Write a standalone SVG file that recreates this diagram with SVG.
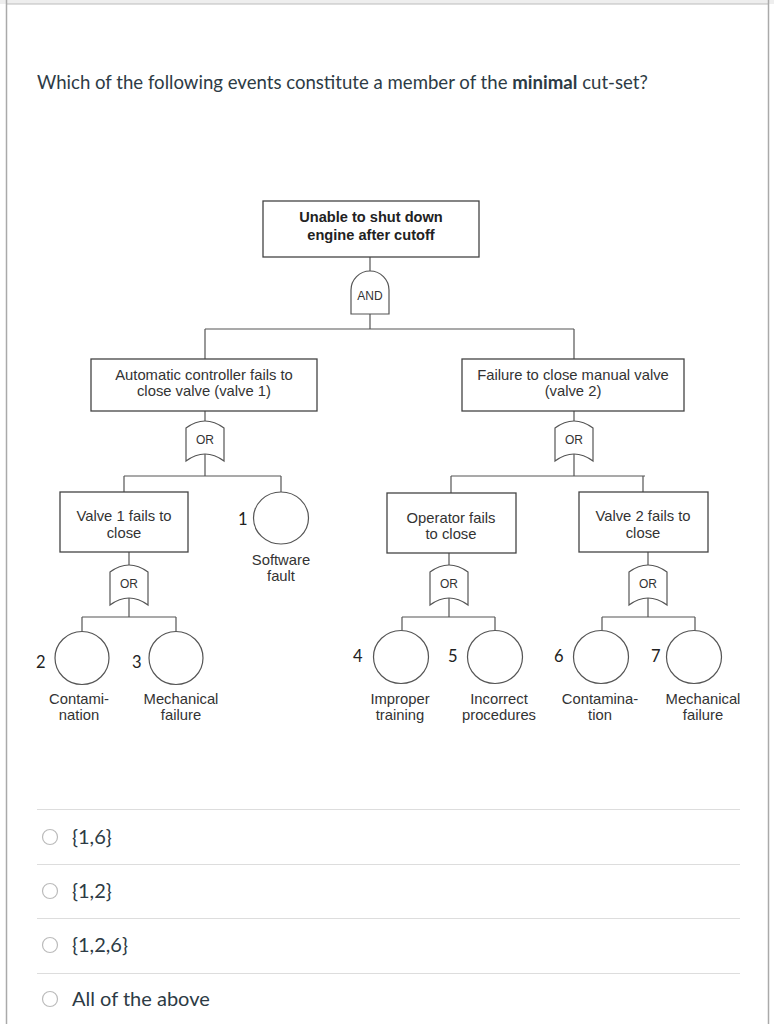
<svg xmlns="http://www.w3.org/2000/svg" xmlns:xlink="http://www.w3.org/1999/xlink" width="774" height="1024" viewBox="0 0 774 1024">
<style>
.q{font-family:Lato,"Liberation Sans",sans-serif;fill:#2d3b45}
.t{font-family:"Liberation Sans",Arial,sans-serif;font-size:14.8px;fill:#333;text-anchor:middle}
.tb{font-family:"Liberation Sans",Arial,sans-serif;font-size:14.6px;font-weight:bold;fill:#222;text-anchor:middle}
.g{font-family:"Liberation Sans",Arial,sans-serif;font-size:12px;fill:#333;text-anchor:middle}
.n{font-family:Lato,"Open Sans",sans-serif;font-size:16.5px;fill:#222}
.box{fill:#fff;stroke:#444;stroke-width:1.3}
.gate{fill:#fff;stroke:#555;stroke-width:1.2}
.ev{fill:#fff;stroke:#555;stroke-width:1.2}
.c{fill:none;stroke:#555;stroke-width:1.2}
.sep{stroke:#ddd;stroke-width:1.2}
.rad{fill:#fff;stroke:#bbb;stroke-width:1.2}
.a{font-family:Lato,"Liberation Sans",sans-serif;font-size:20px;fill:#2d3b45}
</style>
<defs>
<path id="orgate" d="M-19,7 Q0,-7 19,7 L19,40 Q0,26 -19,40 Z"/>
</defs>
<rect x="0" y="0" width="774" height="1024" fill="#fff"/>
<rect x="0" y="0" width="774" height="4" fill="#eeeeee"/>
<line x1="6" y1="4" x2="769" y2="4" stroke="#bbb" stroke-width="1.2"/>
<line x1="6.5" y1="0" x2="6.5" y2="1024" stroke="#aaa" stroke-width="1.5"/>
<line x1="768.5" y1="0" x2="768.5" y2="1024" stroke="#aaa" stroke-width="1.5"/>

<text class="q" x="37" y="89" font-size="18.6">Which of the following events constitute a member of the <tspan font-weight="bold">minimal</tspan> cut-set?</text>

<g id="connectors">
<path class="c" d="M370,257 V271 M370,314 V329 M205,329 H574 M205,329 V359 M574,329 V359"/>
<path class="c" d="M205,411 V421 M205,454 V476 M124,476 H281 M124,476 V492 M281,476 V492"/>
<path class="c" d="M574,411 V421 M574,454 V476 M451,476 H645 M451,476 V493 M643,476 V492"/>
<path class="c" d="M129,552 V565 M129,597 V617 M82,617 H176 M82,617 V632 M176,617 V632"/>
<path class="c" d="M449,553 V565 M449,597 V617 M402,617 H495 M402,617 V631 M495,617 V631"/>
<path class="c" d="M648,552 V565 M648,597 V617 M602,617 H695 M602,617 V631 M695,617 V631"/>
</g>

<g id="top">
<rect class="box" x="263" y="201" width="216" height="56"/>
<text class="tb" x="371" y="222">Unable to shut down</text>
<text class="tb" x="371" y="240">engine after cutoff</text>
</g>
<g id="and-gate">
<path class="gate" d="M351,314 V290 A19,19 0 0 1 389,290 V314 Z"/>
<text class="g" x="370" y="300">AND</text>
</g>

<g id="auto-controller">
<rect class="box" x="91" y="359" width="226" height="52"/>
<text class="t" x="204" y="380">Automatic controller fails to</text>
<text class="t" x="204" y="396">close valve (valve 1)</text>
</g>
<g id="or1">
<use xlink:href="#orgate" class="gate" x="205" y="421"/>
<text class="g" x="205" y="444">OR</text>
</g>

<g id="manual-valve">
<rect class="box" x="462" y="359" width="222" height="52"/>
<text class="t" x="573" y="380">Failure to close manual valve</text>
<text class="t" x="573" y="396">(valve 2)</text>
</g>
<g id="or2">
<use xlink:href="#orgate" class="gate" x="574" y="421"/>
<text class="g" x="574" y="444">OR</text>
</g>

<g id="valve1">
<rect class="box" x="60" y="492" width="128" height="60"/>
<text class="t" x="124" y="521">Valve 1 fails to</text>
<text class="t" x="124" y="538">close</text>
</g>
<g id="or3">
<use xlink:href="#orgate" class="gate" x="129" y="565"/>
<text class="g" x="129" y="588">OR</text>
</g>

<g id="software">
<ellipse class="ev" cx="281" cy="518" rx="27.5" ry="26"/>
<text class="n" x="238" y="525">1</text>
<text class="t" x="281" y="565">Software</text>
<text class="t" x="281" y="581">fault</text>
</g>

<g id="operator">
<rect class="box" x="387" y="493" width="129" height="60"/>
<text class="t" x="451" y="523">Operator fails</text>
<text class="t" x="451" y="539">to close</text>
</g>
<g id="or4">
<use xlink:href="#orgate" class="gate" x="449" y="565"/>
<text class="g" x="449" y="588">OR</text>
</g>

<g id="valve2">
<rect class="box" x="579" y="492" width="129" height="60"/>
<text class="t" x="643" y="521">Valve 2 fails to</text>
<text class="t" x="643" y="538">close</text>
</g>
<g id="or5">
<use xlink:href="#orgate" class="gate" x="648" y="565"/>
<text class="g" x="648" y="588">OR</text>
</g>

<g id="e2">
<ellipse class="ev" cx="82" cy="658" rx="27" ry="26.5"/>
<text class="n" x="36" y="668">2</text>
<text class="t" x="79" y="704">Contami-</text>
<text class="t" x="79" y="720">nation</text>
</g>
<g id="e3">
<ellipse class="ev" cx="176" cy="658" rx="27" ry="26.5"/>
<text class="n" x="132" y="668">3</text>
<text class="t" x="181" y="704">Mechanical</text>
<text class="t" x="181" y="720">failure</text>
</g>
<g id="e4">
<ellipse class="ev" cx="401" cy="657" rx="27.5" ry="26.5"/>
<text class="n" x="353" y="662">4</text>
<text class="t" x="400" y="704">Improper</text>
<text class="t" x="400" y="720">training</text>
</g>
<g id="e5">
<ellipse class="ev" cx="495" cy="657" rx="27.5" ry="26.5"/>
<text class="n" x="448" y="662">5</text>
<text class="t" x="499" y="704">Incorrect</text>
<text class="t" x="499" y="720">procedures</text>
</g>
<g id="e6">
<ellipse class="ev" cx="601" cy="657" rx="27.5" ry="26.5"/>
<text class="n" x="554" y="662">6</text>
<text class="t" x="600" y="704">Contamina-</text>
<text class="t" x="600" y="720">tion</text>
</g>
<g id="e7">
<ellipse class="ev" cx="694" cy="657" rx="27.5" ry="26.5"/>
<text class="n" x="651" y="662">7</text>
<text class="t" x="703" y="704">Mechanical</text>
<text class="t" x="703" y="720">failure</text>
</g>

<g id="answers">
<line class="sep" x1="37" y1="809.5" x2="740" y2="809.5"/>
<line class="sep" x1="37" y1="864.5" x2="740" y2="864.5"/>
<line class="sep" x1="37" y1="918.5" x2="740" y2="918.5"/>
<line class="sep" x1="37" y1="973.5" x2="740" y2="973.5"/>
<circle class="rad" cx="50" cy="837" r="7.5"/>
<circle class="rad" cx="50" cy="891" r="7.5"/>
<circle class="rad" cx="50" cy="945" r="7.5"/>
<circle class="rad" cx="50" cy="999" r="7.5"/>
<text class="a" x="72" y="844">{1,6}</text>
<text class="a" x="72" y="898">{1,2}</text>
<text class="a" x="72" y="952">{1,2,6}</text>
<text class="a" x="72" y="1006">All of the above</text>
</g>
</svg>
